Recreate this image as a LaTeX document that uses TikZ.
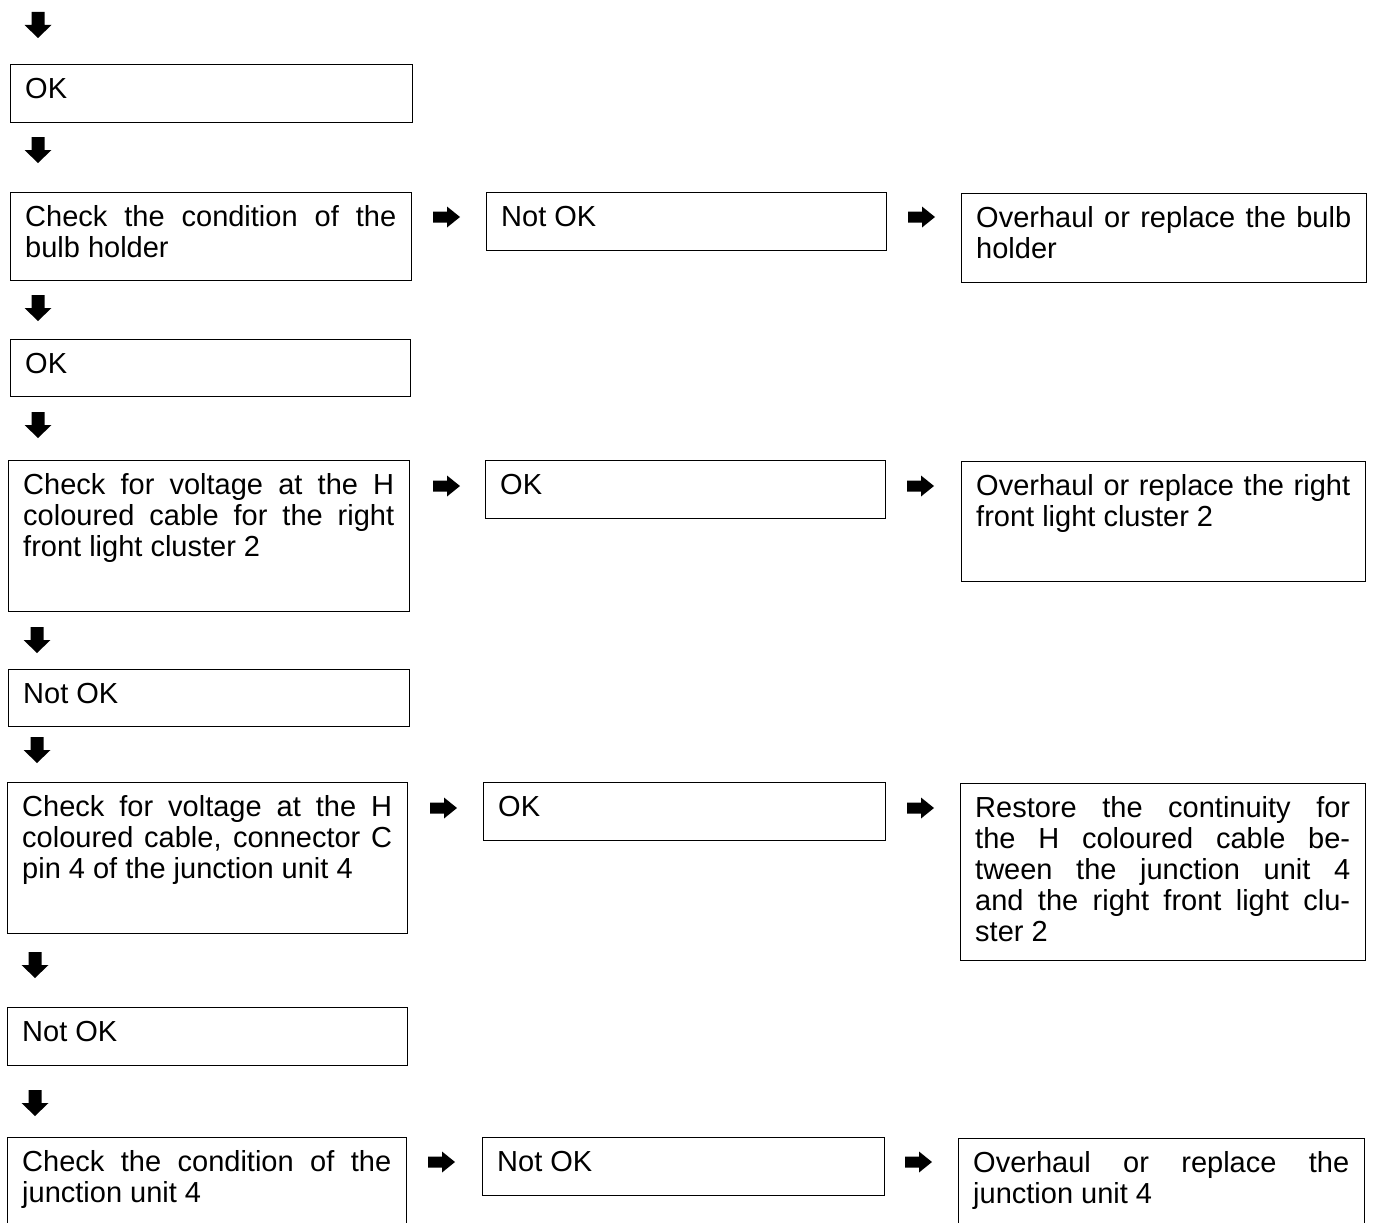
\documentclass[tikz,border=0pt]{standalone}
\usepackage{fontspec}
\setmainfont{Liberation Sans}
\usetikzlibrary{calc}
\newcommand\flowbox[6]{%
  \node[box, minimum width=#4-#2, minimum height=#5-#3] (#1) at (#2,-#3) {};
  \node[txt, text width=#4-#2-30] (#1t) at ($(#1.north west)+(15,-34)$) {#6};}
\begin{document}
\begin{tikzpicture}[x=1pt,y=1pt,
  box/.style={draw, line width=1.4pt, anchor=north west, inner sep=0pt},
  txt/.style={anchor=base west, inner sep=0pt, align=justify, font=\fontsize{29}{31}\selectfont},
  darr/.pic={\fill (-6.5,13) -- (6.5,13) -- (6.5,0) -- (13.5,0) -- (0,-13) -- (-13.5,0) -- (-6.5,0) -- cycle;},
  rarr/.pic={\fill (-13,5.5) -- (1,5.5) -- (1,10.5) -- (14,0) -- (1,-10.5) -- (1,-5.5) -- (-13,-5.5) -- cycle;}]
\useasboundingbox (0,0) rectangle (1373,-1223);
\clip (0,0) rectangle (1373,-1223);
% left column
\flowbox{b1}{10}{64}{412}{122}{OK}
\flowbox{b2}{10}{192}{411}{280}{Check the condition of the\linebreak bulb holder}
\flowbox{b3}{10}{339}{410}{396}{OK}
\flowbox{b4}{8}{460}{409}{611}{Check for voltage at the H\linebreak coloured cable for the right\linebreak front light cluster 2}
\flowbox{b5}{8}{669}{409}{726}{Not OK}
\flowbox{b6}{7}{782}{407}{933}{Check for voltage at the H\linebreak coloured cable, connector C\linebreak pin 4 of the junction unit 4}
\flowbox{b7}{7}{1007}{407}{1065}{Not OK}
\flowbox{b8}{7}{1137}{406}{1260}{Check the condition of the\linebreak junction unit 4}
% middle column
\flowbox{n1}{486}{192}{886}{250}{Not OK}
\flowbox{n2}{485}{460}{885}{518}{OK}
\flowbox{n3}{483}{782}{885}{840}{OK}
\flowbox{n4}{482}{1137}{884}{1195}{Not OK}
% right column
\flowbox{r1}{961}{193}{1366}{282}{Overhaul or replace the bulb\linebreak holder}
\flowbox{r2}{961}{461}{1365}{581}{Overhaul or replace the right\linebreak front light cluster 2}
\flowbox{r3}{960}{783}{1365}{960}{Restore the continuity for\linebreak the H coloured cable be-\linebreak tween the junction unit 4\linebreak and the right front light clu-\linebreak ster 2}
\flowbox{r4}{958}{1138}{1364}{1260}{Overhaul or replace the\linebreak junction unit 4}
% down arrows
\pic (d0) at (38,-25) {darr};
\pic (d1) at (38,-150) {darr};
\pic (d2) at (38,-308) {darr};
\pic (d3) at (38,-425) {darr};
\pic (d4) at (37,-640) {darr};
\pic (d5) at (37,-750) {darr};
\pic (d6) at (35,-965) {darr};
\pic (d7) at (35,-1103) {darr};
% right arrows
\pic (a1) at (446,-217) {rarr};
\pic (a2) at (921,-217) {rarr};
\pic (a3) at (446,-486) {rarr};
\pic (a4) at (920,-486) {rarr};
\pic (a5) at (443,-808) {rarr};
\pic (a6) at (920,-808) {rarr};
\pic (a7) at (441,-1162) {rarr};
\pic (a8) at (918,-1162) {rarr};
\end{tikzpicture}
\end{document}
